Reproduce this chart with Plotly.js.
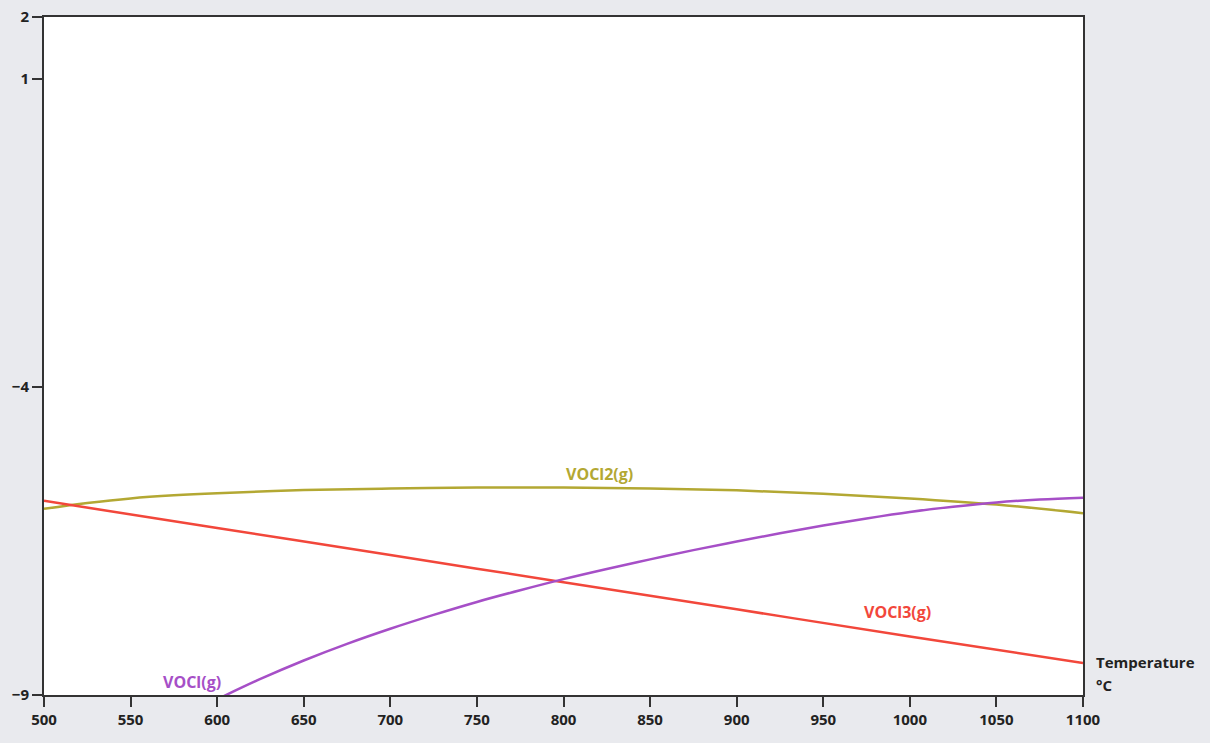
<!DOCTYPE html>
<html>
<head>
<meta charset="utf-8">
<script src="https://cdn.plot.ly/plotly-3.0.1.min.js"></script>
<style>
  html, body { margin: 0; padding: 0; background: #e9eaee; }
  #chart { width: 1210px; height: 743px; }
</style>
</head>
<body>
<div id="chart"></div>
<script>
// Temperature grid (°C) and log partial pressures of the vanadium oxychloride gases
const tempVOCl2 = [500, 525, 550, 575, 600, 650, 700, 750, 800, 850, 900, 950, 1000, 1050, 1100];
const logVOCl2  = [-5.98, -5.885, -5.81, -5.76, -5.725, -5.675, -5.65, -5.635, -5.635, -5.65, -5.68, -5.735, -5.81, -5.91, -6.05];

const tempVOCl3 = [500, 600, 700, 800, 900, 1000, 1100];
const logVOCl3  = [-5.85, -6.29, -6.73, -7.17, -7.61, -8.05, -8.48];

const tempVOCl = [600, 625, 650, 675, 700, 725, 750, 775, 800, 825, 850, 875, 900,
                  925, 950, 975, 1000, 1025, 1050, 1075, 1100];
const logVOCl  = [-9.07, -8.74, -8.44, -8.17, -7.925, -7.70, -7.49, -7.30, -7.12, -6.955, -6.80, -6.65, -6.51,
                  -6.375, -6.25, -6.135, -6.03, -5.945, -5.875, -5.83, -5.80];

const yTickVals = [2, 1, -4, -9];
const xTickVals = [500, 550, 600, 650, 700, 750, 800, 850, 900, 950, 1000, 1050, 1100];

const colVOCl2 = '#b3a833';
const colVOCl3 = '#f2473b';
const colVOCl  = '#a64fc7';

const font = { family: '"Open Sans", "Noto Sans", sans-serif', size: 15, color: '#222', weight: 'bold' };

const traces = [
  { x: tempVOCl2, y: logVOCl2, name: 'VOCl2(g)', mode: 'lines',
    line: { color: colVOCl2, width: 2.5, shape: 'spline', smoothing: 1 } },
  { x: tempVOCl3, y: logVOCl3, name: 'VOCl3(g)', mode: 'lines',
    line: { color: colVOCl3, width: 2.5, shape: 'spline' } },
  { x: tempVOCl, y: logVOCl, name: 'VOCl(g)', mode: 'lines',
    line: { color: colVOCl, width: 2.5, shape: 'spline', smoothing: 1 } }
];

const label = (x, y, text, color) => ({
  x, y, xref: 'x', yref: 'y', text, showarrow: false,
  font: Object.assign({}, font, { color, size: 16 })
});

const layout = {
  width: 1210, height: 743,
  paper_bgcolor: '#e9eaee',
  plot_bgcolor: '#ffffff',
  margin: { l: 44, r: 127, t: 17, b: 48 },
  showlegend: false,
  font: font,
  xaxis: {
    range: [500, 1100], tickvals: xTickVals,
    showgrid: false, zeroline: false,
    showline: true, mirror: true, linecolor: '#333', linewidth: 2,
    ticks: 'outside', ticklen: 10, tickwidth: 2, tickcolor: '#333',
    tickfont: font
  },
  yaxis: {
    range: [-9, 2], tickvals: yTickVals,
    showgrid: false, zeroline: false,
    showline: true, mirror: true, linecolor: '#333', linewidth: 2,
    ticks: 'outside', ticklen: 10, tickwidth: 2, tickcolor: '#333',
    tickfont: font
  },
  annotations: [
    label(820.5, -5.41, 'VOCl2(g)', colVOCl2),
    label(992.6, -7.65, 'VOCl3(g)', colVOCl3),
    label(585.5, -8.79, 'VOCl(g)', colVOCl),
    { x: 1, xref: 'paper', xshift: 11, xanchor: 'left', y: -8.46, yref: 'y',
      text: 'Temperature', showarrow: false, font: font },
    { x: 1, xref: 'paper', xshift: 11, xanchor: 'left', y: -8.84, yref: 'y',
      text: '°C', showarrow: false, font: font }
  ]
};

Plotly.newPlot('chart', traces, layout, { displayModeBar: false, staticPlot: true });
</script>
</body>
</html>
